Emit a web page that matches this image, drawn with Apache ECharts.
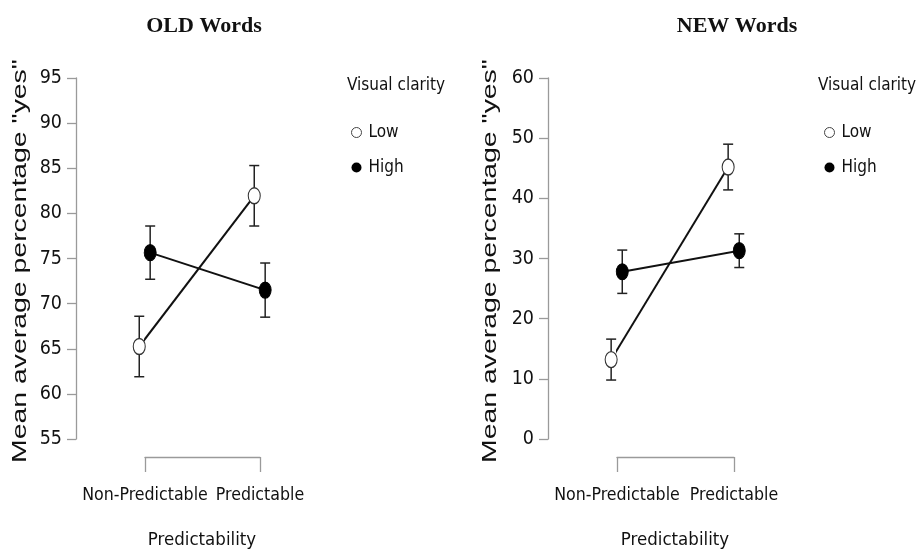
<!DOCTYPE html>
<html>
<head>
<meta charset="utf-8">
<script src="https://cdn.jsdelivr.net/npm/echarts@6/dist/echarts.min.js"></script>
<style>
html,body{margin:0;padding:0;background:#fff;}
#chart{width:918px;height:556px;}
</style>
</head>
<body>
<div id="chart"></div>
<script>
// ---- data ----
const categories = ['Non-Predictable', 'Predictable'];
const groups = ['Low', 'High'];
const panelTitles = ['OLD Words', 'NEW Words'];
const legendTitle = 'Visual clarity';
const yTitle = 'Mean average percentage "yes"';
const xTitle = 'Predictability';

const oldLow = [65.25, 81.95];
const oldLowErr = [3.35, 3.35];
const oldHigh = [75.65, 71.5];
const oldHighErr = [2.95, 3.0];

const newLow = [13.2, 45.2];
const newLowErr = [3.4, 3.8];
const newHigh = [27.8, 31.3];
const newHighErr = [3.6, 2.8];

const oldTicks = {min: 55, max: 95, interval: 5};
const newTicks = {min: 0, max: 60, interval: 10};

// ---- styles ----
const NARROW = "'Liberation Sans Narrow','Arial Narrow','DejaVu Sans Condensed',sans-serif";
const SANS = "'Liberation Sans',Arial,sans-serif";
const SERIF = "'Liberation Serif','Times New Roman',serif";
const AXIS_COL = '#9a9a9a';
const INK = '#111';
const dodge = {Low: -0.05, High: 0.045};

const chart = echarts.init(document.getElementById('chart'));

const panels = [
  {low: oldLow, lowErr: oldLowErr, high: oldHigh, highErr: oldHighErr, ticks: oldTicks,
   grid: {left: 145, top: 78, width: 115, height: 361}, yOffset: 69},
  {low: newLow, lowErr: newLowErr, high: newHigh, highErr: newHighErr, ticks: newTicks,
   grid: {left: 617, top: 78, width: 117, height: 361}, yOffset: 69}
];

const grids = [], xAxes = [], yAxes = [], series = [], legends = [];

panels.forEach((p, k) => {
  grids.push(p.grid);
  xAxes.push({
    type: 'value', gridIndex: k, min: 0, max: 1, interval: 1, offset: 18,
    axisLine: {show: true, onZero: false, lineStyle: {color: AXIS_COL, width: 1.3}},
    axisTick: {show: true, length: 15, lineStyle: {color: AXIS_COL, width: 1.3}},
    axisLabel: {formatter: v => categories[v] || '', margin: 29, fontSize: 17.6,
      fontFamily: NARROW, color: INK, showMinLabel: true, showMaxLabel: true, hideOverlap: false},
    splitLine: {show: false}
  });
  yAxes.push({
    type: 'value', gridIndex: k, min: p.ticks.min, max: p.ticks.max, interval: p.ticks.interval,
    offset: p.yOffset,
    axisLine: {show: true, onZero: false, lineStyle: {color: AXIS_COL, width: 1.3}},
    axisTick: {show: true, length: 9, lineStyle: {color: AXIS_COL, width: 1.3}},
    axisLabel: {margin: 14, fontSize: 19.5, fontFamily: NARROW, color: INK},
    splitLine: {show: false}
  });

  const sets = {Low: [p.low, p.lowErr], High: [p.high, p.highErr]};
  groups.forEach(g => {
    const vals = sets[g][0], errs = sets[g][1];
    series.push({
      type: 'custom', name: g + ' err', xAxisIndex: k, yAxisIndex: k, clip: false, z: 2,
      data: vals.map((v, i) => [i + dodge[g], v - errs[i], v + errs[i]]),
      encode: {x: 0, y: [1, 2]},
      renderItem: (params, api) => {
        const x = api.value(0);
        const a = api.coord([x, api.value(1)]);
        const b = api.coord([x, api.value(2)]);
        const st = {stroke: '#222', lineWidth: 1.5};
        return {type: 'group', children: [
          {type: 'line', shape: {x1: a[0], y1: a[1], x2: b[0], y2: b[1]}, style: st},
          {type: 'line', shape: {x1: a[0] - 5, y1: a[1], x2: a[0] + 5, y2: a[1]}, style: st},
          {type: 'line', shape: {x1: b[0] - 5, y1: b[1], x2: b[0] + 5, y2: b[1]}, style: st}
        ]};
      },
      silent: true
    });
  });
  groups.forEach(g => {
    const vals = sets[g][0];
    series.push({
      type: 'line', name: g, xAxisIndex: k, yAxisIndex: k, clip: false, z: 3,
      data: vals.map((v, i) => [i + dodge[g], v]),
      symbol: 'circle', symbolSize: [12, 16], showSymbol: true,
      lineStyle: {color: INK, width: 2},
      itemStyle: g === 'Low'
        ? {color: '#fff', borderColor: '#333', borderWidth: 1.2}
        : {color: '#000', borderColor: '#000', borderWidth: 1},
      animation: false
    });
  });

  legends.push({
    left: k === 0 ? 346 : 819, top: 119, orient: 'vertical', selectedMode: false,
    itemWidth: 10, itemHeight: 13, itemGap: 18,
    data: [
      {name: 'Low', icon: 'circle', itemStyle: {color: '#fff', borderColor: '#444', borderWidth: 1}},
      {name: 'High', icon: 'circle', itemStyle: {color: '#000', borderWidth: 0}}
    ],
    textStyle: {fontSize: 17, fontFamily: NARROW, color: INK, padding: [0, 0, 0, 2]}
  });
});

const graphics = [];
const titleX = [204, 737];
const yTitleX = [20, 490];
const xTitleX = [202, 675];
const legTitleX = [347, 818];
[0, 1].forEach(k => {
  graphics.push({type: 'text', x: titleX[k], y: 26,
    style: {text: panelTitles[k], font: 'bold 22px ' + SERIF, fill: INK, align: 'center', verticalAlign: 'middle'}});
  graphics.push({type: 'text', x: yTitleX[k], y: 261, rotation: Math.PI / 2, scaleX: 1.42,
    style: {text: yTitle, font: '20px ' + SANS, fill: INK, align: 'center', verticalAlign: 'middle'}});
  graphics.push({type: 'text', x: xTitleX[k], y: 540,
    style: {text: xTitle, font: '18.5px ' + NARROW, fill: INK, align: 'center', verticalAlign: 'middle'}});
  graphics.push({type: 'text', x: legTitleX[k], y: 86,
    style: {text: legendTitle, font: '17px ' + NARROW, fill: INK, align: 'left', verticalAlign: 'middle'}});
});

chart.setOption({
  animation: false,
  backgroundColor: '#fff',
  grid: grids, xAxis: xAxes, yAxis: yAxes, series: series, legend: legends,
  graphic: graphics
});
</script>
</body>
</html>
